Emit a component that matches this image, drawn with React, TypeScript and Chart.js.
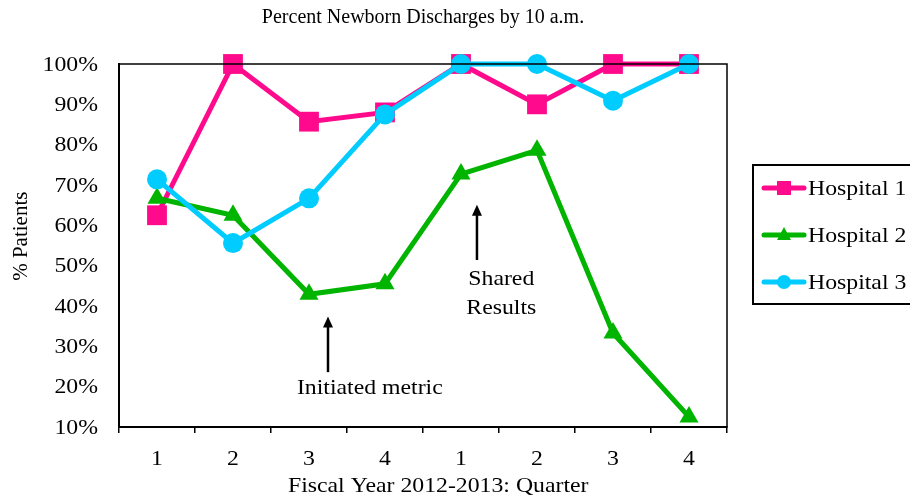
import React, { useEffect, useRef } from "react";
import { Chart, registerables } from "chart.js";

Chart.register(...registerables);

const categories = ["1", "2", "3", "4", "1", "2", "3", "4"];
const hospital1 = [62.5, 100, 85.7, 88, 100, 90, 100, 100];
const hospital2 = [66.7, 62.5, 42.9, 45.5, 72.7, 78.6, 33.3, 12.5];
const hospital3 = [71.4, 55.6, 66.7, 87.5, 100, 100, 90.9, 100];
const seriesNames = ["Hospital 1", "Hospital 2", "Hospital 3"];
const seriesColors = ["#FF0A8C", "#00B400", "#00CCFF"];
const seriesMarkers = ["rect", "triangle", "circle"];
const seriesRadii = [14, 11, 10];
const yMin = 10;
const yMax = 100;
const yStep = 10;
const titleText = "Percent Newborn Discharges by 10 a.m.";
const xTitle = "Fiscal Year 2012-2013: Quarter";
const yTitle = "% Patients";
const note1 = ["Initiated metric"];
const note2 = ["Shared", "Results"];

const FONT = "'Liberation Serif', 'Times New Roman', serif";
const SX = 1.08;
const FS = 22;

function stretchText(ctx: CanvasRenderingContext2D, text: string, x: number, y: number, align: CanvasTextAlign) {
  ctx.save();
  ctx.translate(x, y);
  ctx.scale(SX, 1);
  ctx.textAlign = align;
  ctx.fillText(text, 0, 0);
  ctx.restore();
}

function drawArrow(ctx: CanvasRenderingContext2D, x: number, yBottom: number, yTip: number) {
  ctx.save();
  ctx.strokeStyle = "#000";
  ctx.fillStyle = "#000";
  ctx.lineWidth = 2.5;
  ctx.lineCap = "butt";
  ctx.beginPath();
  ctx.moveTo(x, yBottom);
  ctx.lineTo(x, yTip + 8);
  ctx.stroke();
  ctx.beginPath();
  ctx.moveTo(x, yTip);
  ctx.lineTo(x + 5, yTip + 11);
  ctx.lineTo(x - 5, yTip + 11);
  ctx.closePath();
  ctx.fill();
  ctx.restore();
}

const overlay = {
  id: "overlay",
  afterDraw(chart: any) {
    const { ctx, chartArea } = chart;
    const { left, right, top, bottom } = chartArea;
    const xs = chart.scales.x;
    const ys = chart.scales.y;
    ctx.save();
    // frame
    ctx.strokeStyle = "#000";
    ctx.lineWidth = 1.5;
    ctx.strokeRect(left, top, right - left, bottom - top);

    ctx.fillStyle = "#000";
    ctx.textBaseline = "middle";

    // title
    ctx.font = `20px ${FONT}`;
    ctx.textAlign = "center";
    ctx.fillText(titleText, (left + right) / 2, 18);

    ctx.font = `${FS}px ${FONT}`;
    // y tick labels
    ys.ticks.forEach((t: any, i: number) => {
      stretchText(ctx, t.label as string, left - 21, ys.getPixelForTick(i) + 1, "right");
    });
    // x tick labels
    xs.ticks.forEach((t: any, i: number) => {
      stretchText(ctx, t.label as string, xs.getPixelForTick(i), bottom + 32, "center");
    });

    // x title
    stretchText(ctx, xTitle, xs.getPixelForValue(3.7), 486, "center");

    // y title
    ctx.save();
    ctx.translate(21, ys.getPixelForValue(57.3));
    ctx.rotate(-Math.PI / 2);
    ctx.textAlign = "center";
    ctx.font = `21px ${FONT}`;
    ctx.fillText(yTitle, 0, 0);
    ctx.restore();

    // annotation 1
    stretchText(ctx, note1[0], xs.getPixelForValue(2.8), ys.getPixelForValue(19.7), "center");
    drawArrow(ctx, xs.getPixelForValue(2.25), ys.getPixelForValue(23.6), ys.getPixelForValue(37.4));

    // annotation 2
    stretchText(ctx, note2[0], xs.getPixelForValue(4.53), ys.getPixelForValue(46.7), "center");
    stretchText(ctx, note2[1], xs.getPixelForValue(4.53), ys.getPixelForValue(39.5), "center");
    drawArrow(ctx, xs.getPixelForValue(4.21), ys.getPixelForValue(51.4), ys.getPixelForValue(65.1));

    // legend
    const lx = 753, ly = 165, lw = 170, lh = 139;
    ctx.strokeStyle = "#000";
    ctx.lineWidth = 2;
    ctx.strokeRect(lx, ly, lw, lh);
    const rows = [188, 235, 282];
    seriesNames.forEach((name, i) => {
      const y = rows[i];
      ctx.strokeStyle = seriesColors[i];
      ctx.lineWidth = 5;
      ctx.lineCap = "round";
      ctx.beginPath();
      ctx.moveTo(764, y);
      ctx.lineTo(804, y);
      ctx.stroke();
      ctx.fillStyle = seriesColors[i];
      const mx = 784;
      ctx.beginPath();
      if (seriesMarkers[i] === "rect") {
        ctx.rect(mx - 7, y - 7, 14, 14);
      } else if (seriesMarkers[i] === "triangle") {
        ctx.moveTo(mx, y - 8);
        ctx.lineTo(mx + 7, y + 5);
        ctx.lineTo(mx - 7, y + 5);
        ctx.closePath();
      } else {
        ctx.arc(mx, y, 7, 0, Math.PI * 2);
      }
      ctx.fill();
      ctx.fillStyle = "#000";
      ctx.font = `${FS}px ${FONT}`;
      ctx.textBaseline = "middle";
      stretchText(ctx, name, 808, y + 1, "left");
    });
    ctx.restore();
  },
};

export default function App() {
  const ref = useRef<HTMLCanvasElement>(null);
  useEffect(() => {
    if (!ref.current) return;
    const datasets = [hospital1, hospital2, hospital3].map((d, i) => ({
      label: seriesNames[i],
      data: d,
      borderColor: seriesColors[i],
      backgroundColor: seriesColors[i],
      pointBackgroundColor: seriesColors[i],
      pointBorderColor: seriesColors[i],
      pointBorderWidth: 0,
      pointStyle: seriesMarkers[i],
      pointRadius: seriesRadii[i],
      borderWidth: 5,
      tension: 0,
      clip: false as any,
      order: 3 - i,
    }));
    const chart = new Chart(ref.current, {
      type: "line",
      data: { labels: categories, datasets },
      options: {
        responsive: false,
        animation: false,
        layout: { padding: { left: 0, top: 64, right: 183, bottom: 0 } },
        plugins: { legend: { display: false }, tooltip: { enabled: false }, title: { display: false } },
        scales: {
          x: {
            offset: true,
            afterFit: (s: any) => { s.height = 71; },
            grid: { display: true, drawOnChartArea: false, offset: true, tickLength: 6, color: "#000", lineWidth: 1.5 },
            border: { display: true, color: "#000", width: 2 },
            ticks: { display: false, maxRotation: 0, autoSkip: false },
          },
          y: {
            min: yMin,
            max: yMax,
            afterFit: (s: any) => { s.width = 119; },
            grid: { display: false },
            border: { display: true, color: "#000", width: 2 },
            ticks: {
              display: false,
              stepSize: yStep,
              callback: (v: any) => v + "%",
            },
          },
        },
      },
      plugins: [overlay],
    });
    return () => chart.destroy();
  }, []);
  return (
    <div style={{ position: "fixed", left: 0, top: 0, width: 910, height: 498, background: "#fff" }}>
      <canvas ref={ref} width={910} height={498} style={{ display: "block" }} />
    </div>
  );
}
